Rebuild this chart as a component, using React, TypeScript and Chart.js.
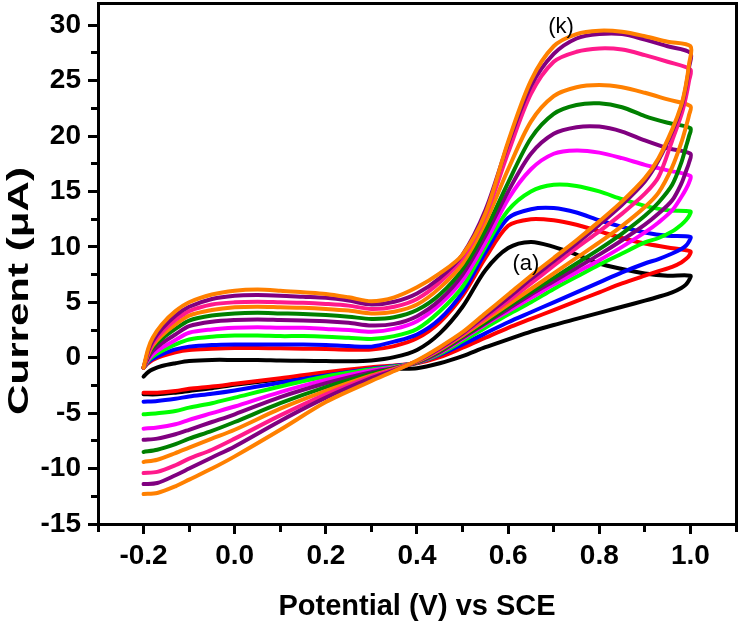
import React, { useEffect, useRef } from 'react';
import { Chart, registerables } from 'chart.js';

Chart.register(...registerables);

// Potential grids (V vs SCE)
const forwardPotential = [-0.2, -0.19, -0.18, -0.16, -0.13, -0.1, -0.05, 0, 0.05, 0.1, 0.15, 0.2, 0.25, 0.3, 0.35, 0.4, 0.45, 0.5, 0.55, 0.6, 0.65, 0.7, 0.75, 0.8, 0.85, 0.9, 0.95, 1.0];
const reversePotential = [0.997, 0.99, 0.98, 0.96, 0.93, 0.9, 0.85, 0.8, 0.75, 0.7, 0.65, 0.6, 0.55, 0.5, 0.45, 0.4, 0.35, 0.3, 0.2, 0.1, 0.0, -0.05, -0.1, -0.13, -0.17, -0.2];

// Current (µA), forward (upper) branch
const forwardA = [-1.7, -1.3, -1.05, -0.75, -0.5, -0.3, -0.2, -0.2, -0.2, -0.25, -0.28, -0.3, -0.32, -0.25, 0.05, 0.7, 2.2, 4.6, 7.9, 9.9, 10.45, 10.0, 9.3, 8.5, 8.0, 7.6, 7.4, 7.4];
const forwardB = [-0.9, -0.5, -0.2, 0.15, 0.5, 0.7, 0.8, 0.87, 0.87, 0.85, 0.82, 0.78, 0.72, 0.75, 1.05, 1.75, 3.2, 5.6, 9.0, 11.9, 12.5, 12.4, 12.0, 11.4, 10.8, 10.3, 9.95, 9.6];
const forwardC = [-0.9, -0.4, -0.1, 0.3, 0.75, 1.0, 1.15, 1.2, 1.2, 1.2, 1.2, 1.15, 1.05, 1.0, 1.45, 2.1, 3.5, 5.9, 9.5, 12.6, 13.4, 13.5, 13.1, 12.4, 11.8, 11.3, 11.0, 10.9];
const forwardD = [-0.9, -0.3, 0.1, 0.6, 1.2, 1.65, 1.9, 2.0, 2.0, 1.95, 1.95, 1.9, 1.8, 1.7, 1.95, 2.6, 4.2, 6.4, 10.0, 13.3, 15.0, 15.6, 15.5, 15.0, 14.3, 13.7, 13.3, 13.2];
const forwardE = [-0.9, -0.2, 0.3, 0.9, 1.6, 2.25, 2.55, 2.7, 2.75, 2.7, 2.7, 2.6, 2.5, 2.35, 2.6, 3.3, 4.8, 7.0, 10.4, 14.3, 17.0, 18.4, 18.7, 18.5, 18.0, 17.4, 16.9, 16.4];
const forwardF = [-0.9, 0.0, 0.6, 1.3, 2.1, 2.85, 3.25, 3.4, 3.45, 3.4, 3.35, 3.3, 3.15, 2.9, 3.05, 3.75, 5.2, 7.5, 11.0, 15.0, 18.4, 20.2, 20.8, 20.85, 20.4, 19.6, 18.9, 18.4];
const forwardG = [-0.9, 0.2, 0.9, 1.7, 2.6, 3.35, 3.8, 4.0, 4.05, 4.0, 3.95, 3.85, 3.7, 3.5, 3.65, 4.3, 5.7, 8.0, 11.5, 15.8, 19.8, 22.0, 22.8, 22.95, 22.6, 21.8, 21.2, 20.7];
const forwardH = [-0.9, 0.3, 1.1, 2.0, 3.0, 3.8, 4.3, 4.55, 4.6, 4.55, 4.5, 4.4, 4.25, 4.0, 4.15, 4.8, 6.3, 8.5, 12.2, 17.0, 21.3, 23.6, 24.4, 24.6, 24.4, 23.9, 23.3, 22.7];
const forwardI = [-0.9, 0.4, 1.3, 2.3, 3.4, 4.2, 4.8, 5.0, 5.05, 5.0, 4.95, 4.85, 4.7, 4.4, 4.6, 5.3, 6.8, 9.0, 12.8, 18.5, 23.8, 26.7, 27.6, 27.9, 27.8, 27.3, 26.7, 26.0];
const forwardJ = [-0.9, 0.6, 1.5, 2.6, 3.8, 4.6, 5.3, 5.6, 5.65, 5.6, 5.5, 5.4, 5.15, 4.8, 5.05, 5.8, 7.2, 9.3, 13.3, 19.3, 24.5, 27.4, 28.8, 29.2, 29.2, 28.7, 28.1, 27.5];
const forwardK = [-0.9, 0.8, 1.8, 3.0, 4.2, 5.0, 5.7, 6.05, 6.15, 6.05, 5.9, 5.75, 5.45, 5.1, 5.45, 6.35, 7.6, 9.3, 13.0, 19.5, 25.0, 28.1, 29.2, 29.5, 29.4, 29.0, 28.5, 28.1];

// Current (µA), reverse (lower) branch
const reverseA = [7.0, 6.6, 6.3, 5.9, 5.5, 5.15, 4.6, 4.05, 3.5, 2.95, 2.35, 1.65, 0.95, 0.15, -0.5, -0.95, -1.0, -1.2, -1.5, -1.95, -2.45, -2.75, -3.0, -3.15, -3.3, -3.3];
const reverseB = [9.2, 8.9, 8.6, 8.2, 7.8, 7.4, 6.7, 5.9, 5.1, 4.3, 3.5, 2.7, 1.8, 0.9, 0.05, -0.5, -0.7, -0.85, -1.3, -1.85, -2.35, -2.6, -2.8, -3.0, -3.15, -3.16];
const reverseC = [10.5, 10.1, 9.8, 9.4, 8.9, 8.5, 7.7, 6.8, 5.9, 5.0, 4.1, 3.2, 2.2, 1.2, 0.25, -0.45, -0.75, -1.0, -1.6, -2.25, -2.95, -3.25, -3.5, -3.7, -3.9, -3.97];
const reverseD = [12.8, 12.4, 12.0, 11.4, 10.8, 10.4, 9.4, 8.4, 7.3, 6.2, 5.0, 3.9, 2.7, 1.5, 0.35, -0.45, -0.8, -1.05, -1.7, -2.6, -3.6, -4.1, -4.5, -4.8, -5.0, -5.1];
const reverseE = [15.8, 15.2, 14.5, 13.3, 12.2, 11.3, 10.0, 8.8, 7.7, 6.6, 5.4, 4.2, 3.0, 1.7, 0.45, -0.45, -0.85, -1.15, -2.0, -3.1, -4.4, -5.0, -5.6, -6.0, -6.3, -6.4];
const reverseF = [17.6, 16.8, 15.7, 14.2, 13.0, 12.0, 10.6, 9.3, 8.1, 6.9, 5.7, 4.4, 3.1, 1.8, 0.5, -0.45, -0.95, -1.3, -2.3, -3.55, -5.1, -5.8, -6.5, -6.9, -7.3, -7.4];
const reverseG = [20.0, 19.0, 17.6, 15.6, 14.0, 12.8, 11.2, 9.8, 8.5, 7.2, 5.9, 4.6, 3.2, 1.9, 0.6, -0.4, -0.95, -1.45, -2.65, -4.1, -5.8, -6.6, -7.3, -7.8, -8.3, -8.5];
const reverseH = [21.9, 20.8, 19.4, 17.2, 14.9, 13.6, 11.9, 10.4, 9.0, 7.6, 6.2, 4.8, 3.4, 2.0, 0.7, -0.35, -1.0, -1.6, -3.0, -4.6, -6.5, -7.3, -8.1, -8.6, -9.2, -9.4];
const reverseI = [25.0, 23.5, 21.9, 19.6, 16.3, 14.8, 13.0, 11.4, 9.9, 8.3, 6.7, 5.1, 3.6, 2.1, 0.75, -0.3, -1.05, -1.7, -3.3, -5.2, -7.3, -8.3, -9.1, -9.7, -10.3, -10.4];
const reverseJ = [26.2, 24.4, 22.6, 20.4, 17.8, 15.9, 13.8, 12.0, 10.3, 8.7, 7.1, 5.4, 3.8, 2.2, 0.85, -0.3, -1.15, -1.85, -3.6, -5.7, -8.0, -9.0, -10.0, -10.6, -11.3, -11.4];
const reverseK = [26.5, 24.6, 22.8, 20.6, 18.0, 16.2, 14.1, 12.3, 10.6, 9.0, 7.4, 5.7, 4.0, 2.3, 0.95, -0.25, -1.2, -2.1, -4.0, -6.5, -8.9, -10.0, -11.0, -11.6, -12.2, -12.3];

const curveNames = ['a', 'b', 'c', 'd', 'e', 'f', 'g', 'h', 'i', 'j', 'k'];
const curveColors = ['#000000', '#FF0000', '#0000FF', '#00FF00', '#FF00FF', '#800080', '#008000', '#FF8000', '#FF1A8C', '#800080', '#FF8000'];
const forwardSeries = [forwardA, forwardB, forwardC, forwardD, forwardE, forwardF, forwardG, forwardH, forwardI, forwardJ, forwardK];
const reverseSeries = [reverseA, reverseB, reverseC, reverseD, reverseE, reverseF, reverseG, reverseH, reverseI, reverseJ, reverseK];

// Axis ticks
const xMajorTicks = [-0.2, 0.0, 0.2, 0.4, 0.6, 0.8, 1.0];
const xMinorTicks = [-0.3, -0.2, -0.1, 0.0, 0.1, 0.2, 0.3, 0.4, 0.5, 0.6, 0.7, 0.8, 0.9, 1.0, 1.1];
const yMajorTicks = [-15, -10, -5, 0, 5, 10, 15, 20, 25, 30];
const yMinorTicks = [-15, -12.5, -10, -7.5, -5, -2.5, 0, 2.5, 5, 7.5, 10, 12.5, 15, 17.5, 20, 22.5, 25, 27.5, 30];

// In-plot curve tags
const tagTexts = ['(a)', '(k)'];
const tagX = [0.639, 0.716];
const tagY = [8.5, 29.85];

const FONT = '"Liberation Sans", Arial, Helvetica, sans-serif';

const zeroPad = (s: any) => {
  s.paddingTop = 0;
  s.paddingBottom = 0;
  s.paddingLeft = 0;
  s.paddingRight = 0;
};

const extrasPlugin = {
  id: 'cvExtras',
  afterDraw(chart: any) {
    const ctx = chart.ctx;
    const xs = chart.scales.x;
    const ys = chart.scales.y;
    ctx.save();
    ctx.fillStyle = '#000';
    ctx.font = `22px ${FONT}`;
    ctx.textAlign = 'center';
    ctx.textBaseline = 'middle';
    tagTexts.forEach((t, i) => {
      ctx.fillText(t, xs.getPixelForValue(tagX[i]), ys.getPixelForValue(tagY[i]));
    });
    ctx.restore();

    // y-axis title (stretched along its length like the original)
    ctx.save();
    ctx.fillStyle = '#000';
    ctx.font = `bold 29px ${FONT}`;
    const text = 'Current (\u03BCA)';
    const w = ctx.measureText(text).width;
    const target = 248;
    ctx.translate(28, 291);
    ctx.rotate(-Math.PI / 2);
    ctx.scale(target / w, 1);
    ctx.textAlign = 'center';
    ctx.textBaseline = 'alphabetic';
    ctx.fillText(text, 0, 0);
    ctx.restore();
  },
};

export default function App() {
  const ref = useRef<HTMLCanvasElement>(null);

  useEffect(() => {
    const canvas = ref.current;
    if (!canvas) return;
    const n = curveNames.length;
    const datasets = curveNames.map((name, i) => ({
      label: '(' + name + ')',
      data: [
        ...forwardPotential.map((x, j) => ({ x, y: forwardSeries[i][j] })),
        ...reversePotential.map((x, j) => ({ x, y: reverseSeries[i][j] })),
      ],
      borderColor: curveColors[i],
      backgroundColor: curveColors[i],
      borderWidth: 4,
      pointRadius: 0,
      showLine: true,
      fill: false,
      tension: 0.3,
      borderJoinStyle: 'round' as const,
      borderCapStyle: 'round' as const,
      order: n - i,
    }));

    const tickFont = { family: FONT, size: 28, weight: 'bold' as const };

    const chart = new Chart(canvas, {
      type: 'scatter',
      data: { datasets },
      plugins: [extrasPlugin],
      options: {
        responsive: false,
        animation: false,
        layout: { padding: { top: 3, right: 14, left: 0, bottom: 0 } },
        plugins: { legend: { display: false }, tooltip: { enabled: false } },
        scales: {
          x: {
            type: 'linear',
            position: 'bottom',
            weight: 1,
            min: -0.3,
            max: 1.1,
            afterBuildTicks: (s: any) => { s.ticks = xMajorTicks.map((v) => ({ value: v })); },
            afterFit: (s: any) => { s.height = 110; zeroPad(s); },
            ticks: {
              autoSkip: false,
              maxRotation: 0,
              padding: 5,
              color: '#000',
              font: tickFont,
              callback: (v: any) => Number(v).toFixed(1),
            },
            grid: { display: true, drawOnChartArea: false, drawTicks: true, tickLength: 10, tickWidth: 3, tickColor: '#000' },
            border: { display: true, width: 3, color: '#000' },
            title: {
              display: true,
              text: 'Potential (V) vs SCE',
              color: '#000',
              font: { family: FONT, size: 29, weight: 'bold' },
              padding: { top: 0, bottom: 10 },
            },
          },
          xMinor: {
            type: 'linear',
            position: 'bottom',
            weight: 0,
            min: -0.3,
            max: 1.1,
            afterBuildTicks: (s: any) => { s.ticks = xMinorTicks.map((v) => ({ value: v })); },
            afterFit: (s: any) => { s.height = 0; zeroPad(s); },
            ticks: { display: false, autoSkip: false },
            grid: { display: true, drawOnChartArea: false, drawTicks: true, tickLength: 8, tickWidth: 3, tickColor: '#000' },
            border: { display: false },
          },
          xTop: {
            type: 'linear',
            position: 'top',
            min: -0.3,
            max: 1.1,
            afterFit: (s: any) => { s.height = 0; zeroPad(s); },
            ticks: { display: false },
            grid: { display: false },
            border: { display: true, width: 3, color: '#000' },
          },
          y: {
            type: 'linear',
            position: 'left',
            weight: 1,
            min: -15,
            max: 32,
            afterBuildTicks: (s: any) => { s.ticks = yMajorTicks.map((v) => ({ value: v })); },
            afterFit: (s: any) => { s.width = 98; zeroPad(s); },
            ticks: {
              autoSkip: false,
              padding: 7,
              color: '#000',
              font: tickFont,
              callback: (v: any) => String(v),
            },
            grid: { display: true, drawOnChartArea: false, drawTicks: true, tickLength: 10, tickWidth: 3, tickColor: '#000' },
            border: { display: true, width: 3, color: '#000' },
          },
          yMinor: {
            type: 'linear',
            position: 'left',
            weight: 0,
            min: -15,
            max: 32,
            afterBuildTicks: (s: any) => { s.ticks = yMinorTicks.map((v) => ({ value: v })); },
            afterFit: (s: any) => { s.width = 0; zeroPad(s); },
            ticks: { display: false, autoSkip: false },
            grid: { display: true, drawOnChartArea: false, drawTicks: true, tickLength: 7, tickWidth: 3, tickColor: '#000' },
            border: { display: false },
          },
          yRight: {
            type: 'linear',
            position: 'right',
            min: -15,
            max: 32,
            afterFit: (s: any) => { s.width = 0; zeroPad(s); },
            ticks: { display: false },
            grid: { display: false },
            border: { display: true, width: 3, color: '#000' },
          },
        },
      } as any,
    });

    return () => chart.destroy();
  }, []);

  return (
    <div style={{ position: 'fixed', left: 0, top: 0, width: 750, height: 634, background: '#fff' }}>
      <canvas ref={ref} width={750} height={634} style={{ display: 'block', width: 750, height: 634 }} />
    </div>
  );
}
